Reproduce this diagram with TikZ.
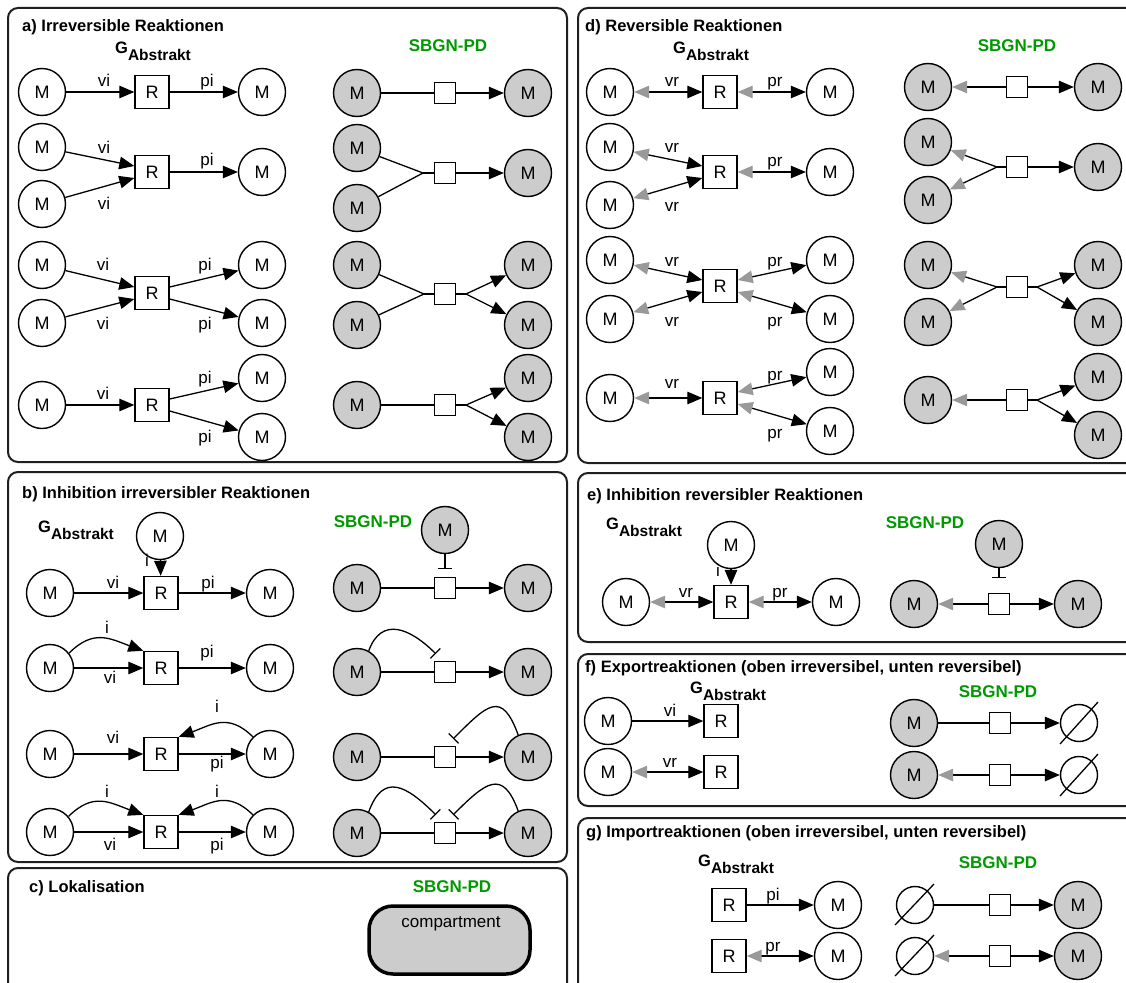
\documentclass[tikz,border=0pt]{standalone}
\usepackage{fontspec}
\setmainfont{Liberation Sans}
\usetikzlibrary{arrows.meta}
\definecolor{mgray}{HTML}{CCCCCC}
\definecolor{agray}{HTML}{999999}
\definecolor{sgreen}{HTML}{009900}
\newcommand\gabs{\bfseries\fontsize{16.5}{18}\selectfont G\raisebox{-7.5pt}{\fontsize{15.5}{17}\selectfont Abstrakt}}
\tikzset{
  mnode/.style={circle, draw, line width=1.4pt, minimum size=47pt, inner sep=0pt, font=\fontsize{18}{20}\selectfont},
  gnode/.style={mnode, fill=mgray},
  rnode/.style={rectangle, draw, line width=1.4pt, minimum width=34pt, minimum height=33pt, inner sep=0pt, font=\fontsize{18}{20}\selectfont},
  sqnode/.style={rectangle, draw, fill=white, line width=1.4pt, minimum size=21pt, inner sep=0pt},
  esnode/.style={circle, draw, line width=1.4pt, minimum size=37pt, inner sep=0pt},
  edge/.style={line width=1.3pt},
  arr/.style={edge, -{Triangle[length=15pt,width=12.5pt]}},
  garr/.style={edge, -{Triangle[length=15pt,width=12.5pt,color=agray]}},
  rarr/.style={edge, {Triangle[length=15pt,width=12.5pt,color=agray]}-{Triangle[length=15pt,width=12.5pt]}},
  inh/.style={edge, -{Bar[width=14pt]}},
  panel/.style={draw=black!88, line width=2pt, rounded corners=10pt},
  title/.style={anchor=base west, inner sep=0pt, font=\bfseries\fontsize{16.5}{19}\selectfont},
  sbgn/.style={anchor=base, inner sep=0pt, text=sgreen, font=\bfseries\fontsize{17}{20}\selectfont},
  gab/.style={anchor=base west, inner sep=0pt},
  lab/.style={anchor=base, inner sep=0pt, font=\fontsize{17}{20}\selectfont},
}
\begin{document}
\begin{tikzpicture}[x=1pt,y=1pt]
\useasboundingbox (0,0) rectangle (1126,-982);
\clip (0,0) rectangle (1126,-982);

% panel frames
\draw[panel] (8,-8) rectangle (567,-462);
\draw[panel] (8,-472) rectangle (567,-862);
\draw[panel] (8,-868) rectangle (567,-1000);
\draw[panel] (578,-8) rectangle (1145,-463);
\draw[panel] (578,-473) rectangle (1145,-642);
\draw[panel] (578,-654) rectangle (1145,-806);
\draw[panel] (578,-818) rectangle (1145,-1000);

% ---------- a) irreversible reactions ----------
\node[title] (ta) at (22,-32) {a) Irreversible Reaktionen};
\node[gab] (gaa) at (115,-53) {\gabs};
\node[sbgn] (sa) at (448,-52) {SBGN-PD};

\node[mnode] (a1m) at (42,-92) {M};
\node[rnode] (a1r) at (152,-92) {R};
\node[mnode] (a1p) at (262,-92) {M};
\draw[arr] (a1m) -- (a1r);
\draw[arr] (a1r) -- (a1p);
\node[lab] (a1l1) at (104,-86) {vi};
\node[lab] (a1l2) at (207,-86) {pi};

\node[mnode] (a2m1) at (42,-147) {M};
\node[mnode] (a2m2) at (42,-204) {M};
\node[rnode] (a2r) at (152,-172) {R};
\node[mnode] (a2p) at (262,-172) {M};
\draw[arr] (a2m1) -- ([yshift=6pt]a2r.west);
\draw[arr] (a2m2) -- ([yshift=-6pt]a2r.west);
\draw[arr] (a2r) -- (a2p);
\node[lab] (a2l1) at (104,-153) {vi};
\node[lab] (a2l2) at (104,-209) {vi};
\node[lab] (a2l3) at (207,-165) {pi};

\node[mnode] (a3m1) at (42,-265) {M};
\node[mnode] (a3m2) at (42,-323) {M};
\node[rnode] (a3r) at (152,-293) {R};
\node[mnode] (a3p1) at (262,-265) {M};
\node[mnode] (a3p2) at (262,-323) {M};
\draw[arr] (a3m1) -- ([yshift=6pt]a3r.west);
\draw[arr] (a3m2) -- ([yshift=-6pt]a3r.west);
\draw[arr] ([yshift=6pt]a3r.east) -- (a3p1);
\draw[arr] ([yshift=-6pt]a3r.east) -- (a3p2);
\node[lab] (a3l1) at (103,-270) {vi};
\node[lab] (a3l2) at (103,-329) {vi};
\node[lab] (a3l3) at (205,-270) {pi};
\node[lab] (a3l4) at (205,-329) {pi};

\node[mnode] (a4m) at (42,-405) {M};
\node[rnode] (a4r) at (152,-405) {R};
\node[mnode] (a4p1) at (262,-378) {M};
\node[mnode] (a4p2) at (262,-437) {M};
\draw[arr] (a4m) -- (a4r);
\draw[arr] ([yshift=6pt]a4r.east) -- (a4p1);
\draw[arr] ([yshift=-6pt]a4r.east) -- (a4p2);
\node[lab] (a4l1) at (103,-399) {vi};
\node[lab] (a4l2) at (205,-383) {pi};
\node[lab] (a4l3) at (205,-442) {pi};

% SBGN-PD column of a)
\node[gnode] (ga1m) at (357,-93) {M};
\node[sqnode] (sqa1) at (445,-93) {};
\node[gnode] (ga1p) at (528,-93) {M};
\draw[edge] (ga1m) -- (sqa1);
\draw[arr] (sqa1) -- (ga1p);

\node[gnode] (ga2m1) at (357,-148) {M};
\node[gnode] (ga2m2) at (357,-208) {M};
\coordinate (ja2) at (423,-173);
\node[sqnode] (sqa2) at (445,-173) {};
\node[gnode] (ga2p) at (528,-173) {M};
\draw[edge] (ga2m1) -- (ja2);
\draw[edge] (ga2m2) -- (ja2);
\draw[edge] (ja2) -- (sqa2);
\draw[arr] (sqa2) -- (ga2p);

\node[gnode] (ga3m1) at (357,-265) {M};
\node[gnode] (ga3m2) at (357,-325) {M};
\coordinate (ja3) at (424,-294);
\node[sqnode] (sqa3) at (445,-294) {};
\coordinate (ka3) at (466,-294);
\node[gnode] (ga3p1) at (528,-265) {M};
\node[gnode] (ga3p2) at (528,-325) {M};
\draw[edge] (ga3m1) -- (ja3);
\draw[edge] (ga3m2) -- (ja3);
\draw[edge] (ja3) -- (sqa3);
\draw[edge] (sqa3) -- (ka3);
\draw[arr] (ka3) -- (ga3p1);
\draw[arr] (ka3) -- (ga3p2);

\node[gnode] (ga4m) at (357,-405) {M};
\node[sqnode] (sqa4) at (445,-405) {};
\coordinate (ka4) at (466,-405);
\node[gnode] (ga4p1) at (528,-378) {M};
\node[gnode] (ga4p2) at (528,-437) {M};
\draw[edge] (ga4m) -- (sqa4);
\draw[edge] (sqa4) -- (ka4);
\draw[arr] (ka4) -- (ga4p1);
\draw[arr] (ka4) -- (ga4p2);

% ---------- b) inhibition of irreversible reactions ----------
\node[title] (tb) at (22,-498) {b) Inhibition irreversibler Reaktionen};
\node[gab] (gab) at (38,-532) {\gabs};
\node[sbgn] (sb) at (373,-527) {SBGN-PD};

\node[mnode] (b0m) at (160,-536) {M};
\node[mnode] (b1m) at (50,-593) {M};
\node[rnode] (b1r) at (161,-593) {R};
\node[mnode] (b1p) at (270,-593) {M};
\draw[arr] (b0m) -- (b1r);
\draw[arr] (b1m) -- (b1r);
\draw[arr] (b1r) -- (b1p);
\node[lab] (b1l0) at (147,-566) {i};
\node[lab] (b1l1) at (113,-588) {vi};
\node[lab] (b1l2) at (208,-588) {pi};

\node[mnode] (b2m) at (50,-668) {M};
\node[rnode] (b2r) at (161,-668) {R};
\node[mnode] (b2p) at (270,-668) {M};
\draw[arr] (b2m) -- (b2r);
\draw[arr] (b2r) -- (b2p);
\draw[arr] (b2m.38) to[out=45,in=160,looseness=1.2] (b2r.north west);
\node[lab] (b2l0) at (107,-633) {i};
\node[lab] (b2l1) at (110,-683) {vi};
\node[lab] (b2l2) at (207,-657) {pi};

\node[mnode] (b3m) at (50,-754) {M};
\node[rnode] (b3r) at (161,-754) {R};
\node[mnode] (b3p) at (270,-754) {M};
\draw[arr] (b3m) -- (b3r);
\draw[arr] (b3r) -- (b3p);
\draw[arr] (b3p.135) to[out=135,in=20,looseness=1.2] (b3r.north east);
\node[lab] (b3l0) at (217,-712) {i};
\node[lab] (b3l1) at (113,-743) {vi};
\node[lab] (b3l2) at (217,-768) {pi};

\node[mnode] (b4m) at (50,-832) {M};
\node[rnode] (b4r) at (161,-832) {R};
\node[mnode] (b4p) at (270,-832) {M};
\draw[arr] (b4m) -- (b4r);
\draw[arr] (b4r) -- (b4p);
\draw[arr] (b4m.40) to[out=45,in=160,looseness=1.2] (b4r.north west);
\draw[arr] (b4p.135) to[out=135,in=20,looseness=1.2] (b4r.north east);
\node[lab] (b4l0) at (107,-797) {i};
\node[lab] (b4l1) at (217,-797) {i};
\node[lab] (b4l2) at (110,-850) {vi};
\node[lab] (b4l3) at (217,-850) {pi};

% SBGN-PD column of b)
\node[gnode] (gb0) at (445,-530) {M};
\node[gnode] (gb1m) at (357,-588) {M};
\node[sqnode] (sqb1) at (445,-588) {};
\node[gnode] (gb1p) at (528,-588) {M};
\draw[edge] (gb1m) -- (sqb1);
\draw[arr] (sqb1) -- (gb1p);
\draw[inh] (gb0) -- ([yshift=8pt]sqb1.north);

\node[gnode] (gb2m) at (357,-672) {M};
\node[sqnode] (sqb2) at (445,-672) {};
\node[gnode] (gb2p) at (528,-672) {M};
\draw[edge] (gb2m) -- (sqb2);
\draw[arr] (sqb2) -- (gb2p);
\draw[inh] (gb2m.61) to[out=70,in=135,looseness=1.4] ([shift={(2pt,7pt)}]sqb2.north west);

\node[gnode] (gb3m) at (357,-757) {M};
\node[sqnode] (sqb3) at (445,-757) {};
\node[gnode] (gb3p) at (528,-757) {M};
\draw[edge] (gb3m) -- (sqb3);
\draw[arr] (sqb3) -- (gb3p);
\draw[inh] (gb3p.114) to[out=110,in=45,looseness=1.9] ([shift={(-3pt,7pt)}]sqb3.north east);

\node[gnode] (gb4m) at (357,-833) {M};
\node[sqnode] (sqb4) at (445,-833) {};
\node[gnode] (gb4p) at (528,-833) {M};
\draw[edge] (gb4m) -- (sqb4);
\draw[arr] (sqb4) -- (gb4p);
\draw[inh] (gb4m.61) to[out=70,in=135,looseness=1.6] ([shift={(2pt,7pt)}]sqb4.north west);
\draw[inh] (gb4p.114) to[out=110,in=45,looseness=1.8] ([shift={(-3pt,7pt)}]sqb4.north east);

% ---------- c) localisation ----------
\node[title] (tc) at (29,-892) {c) Lokalisation};
\node[sbgn] (sc) at (452,-892) {SBGN-PD};
\node[draw, line width=3.5pt, fill=mgray, rounded corners=24pt, minimum width=161pt, minimum height=68pt] (comp) at (449.5,-940) {};
\node[lab] (compl) at (451,-927) {compartment};

% ---------- d) reversible reactions ----------
\node[title] (td) at (585,-32) {d) Reversible Reaktionen};
\node[gab] (gad) at (673,-53) {\gabs};
\node[sbgn] (sd) at (1017,-52) {SBGN-PD};

\node[mnode] (d1m) at (610,-92) {M};
\node[rnode] (d1r) at (720,-92) {R};
\node[mnode] (d1p) at (830,-92) {M};
\draw[rarr] (d1m) -- (d1r);
\draw[rarr] (d1r) -- (d1p);
\node[lab] (d1l1) at (672,-86) {vr};
\node[lab] (d1l2) at (775,-86) {pr};

\node[mnode] (d2m1) at (610,-147) {M};
\node[mnode] (d2m2) at (610,-205) {M};
\node[rnode] (d2r) at (720,-172) {R};
\node[mnode] (d2p) at (830,-172) {M};
\draw[rarr] (d2m1) -- ([yshift=6pt]d2r.west);
\draw[rarr] (d2m2) -- ([yshift=-6pt]d2r.west);
\draw[rarr] (d2r) -- (d2p);
\node[lab] (d2l1) at (672,-152) {vr};
\node[lab] (d2l2) at (672,-211) {vr};
\node[lab] (d2l3) at (775,-166) {pr};

\node[mnode] (d3m1) at (610,-260) {M};
\node[mnode] (d3m2) at (610,-319) {M};
\node[rnode] (d3r) at (720,-286) {R};
\node[mnode] (d3p1) at (830,-260) {M};
\node[mnode] (d3p2) at (830,-319) {M};
\draw[rarr] (d3m1) -- ([yshift=6pt]d3r.west);
\draw[rarr] (d3m2) -- ([yshift=-6pt]d3r.west);
\draw[rarr] ([yshift=6pt]d3r.east) -- (d3p1);
\draw[rarr] ([yshift=-6pt]d3r.east) -- (d3p2);
\node[lab] (d3l1) at (672,-266) {vr};
\node[lab] (d3l2) at (672,-326) {vr};
\node[lab] (d3l3) at (775,-266) {pr};
\node[lab] (d3l4) at (775,-326) {pr};

\node[mnode] (d4m) at (610,-398) {M};
\node[rnode] (d4r) at (720,-398) {R};
\node[mnode] (d4p1) at (830,-372) {M};
\node[mnode] (d4p2) at (830,-431) {M};
\draw[rarr] (d4m) -- (d4r);
\draw[rarr] ([yshift=6pt]d4r.east) -- (d4p1);
\draw[rarr] ([yshift=-6pt]d4r.east) -- (d4p2);
\node[lab] (d4l1) at (672,-388) {vr};
\node[lab] (d4l2) at (775,-380) {pr};
\node[lab] (d4l3) at (775,-438) {pr};

% SBGN-PD column of d)
\node[gnode] (gd1m) at (928,-87) {M};
\node[sqnode] (sqd1) at (1017,-87) {};
\node[gnode] (gd1p) at (1098,-87) {M};
\draw[garr] (sqd1) -- (gd1m);
\draw[arr] (sqd1) -- (gd1p);

\node[gnode] (gd2m1) at (928,-142) {M};
\node[gnode] (gd2m2) at (928,-200) {M};
\coordinate (jd2) at (997,-167);
\node[sqnode] (sqd2) at (1017,-167) {};
\node[gnode] (gd2p) at (1098,-167) {M};
\draw[edge] (sqd2) -- (jd2);
\draw[garr] (jd2) -- (gd2m1);
\draw[garr] (jd2) -- (gd2m2);
\draw[arr] (sqd2) -- (gd2p);

\node[gnode] (gd3m1) at (928,-265) {M};
\node[gnode] (gd3m2) at (928,-322) {M};
\coordinate (jd3) at (997,-287);
\node[sqnode] (sqd3) at (1017,-287) {};
\coordinate (kd3) at (1037,-287);
\node[gnode] (gd3p1) at (1098,-265) {M};
\node[gnode] (gd3p2) at (1098,-322) {M};
\draw[edge] (sqd3) -- (jd3);
\draw[garr] (jd3) -- (gd3m1);
\draw[garr] (jd3) -- (gd3m2);
\draw[edge] (sqd3) -- (kd3);
\draw[arr] (kd3) -- (gd3p1);
\draw[arr] (kd3) -- (gd3p2);

\node[gnode] (gd4m) at (928,-400) {M};
\node[sqnode] (sqd4) at (1017,-400) {};
\coordinate (kd4) at (1037,-400);
\node[gnode] (gd4p1) at (1098,-377) {M};
\node[gnode] (gd4p2) at (1098,-435) {M};
\draw[garr] (sqd4) -- (gd4m);
\draw[edge] (sqd4) -- (kd4);
\draw[arr] (kd4) -- (gd4p1);
\draw[arr] (kd4) -- (gd4p2);

% ---------- e) inhibition of reversible reactions ----------
\node[title] (te) at (587,-500) {e) Inhibition reversibler Reaktionen};
\node[gab] (gae) at (606,-529) {\gabs};
\node[sbgn] (se) at (925,-528) {SBGN-PD};

\node[mnode] (e0m) at (731,-545) {M};
\node[mnode] (e1m) at (626,-602) {M};
\node[rnode] (e1r) at (731,-602) {R};
\node[mnode] (e1p) at (836,-602) {M};
\draw[arr] (e0m) -- (e1r);
\draw[rarr] (e1m) -- (e1r);
\draw[rarr] (e1r) -- (e1p);
\node[lab] (el0) at (718,-576) {i};
\node[lab] (el1) at (686,-597) {vr};
\node[lab] (el2) at (780,-597) {pr};

\node[gnode] (ge0) at (999,-544) {M};
\node[gnode] (gem) at (914,-604) {M};
\node[sqnode] (sqe) at (999,-604) {};
\node[gnode] (gep) at (1078,-604) {M};
\draw[garr] (sqe) -- (gem);
\draw[arr] (sqe) -- (gep);
\draw[inh] (ge0) -- ([yshift=15pt]sqe.north);

% ---------- f) export reactions ----------
\node[title] (tf) at (585,-672) {f) Exportreaktionen (oben irreversibel, unten reversibel)};
\node[gab] (gaf) at (690,-693) {\gabs};
\node[sbgn] (sf) at (998,-697) {SBGN-PD};

\node[mnode] (f1m) at (608,-721) {M};
\node[rnode] (f1r) at (721,-721) {R};
\draw[arr] (f1m) -- (f1r);
\node[lab] (fl1) at (670,-716) {vi};
\node[mnode] (f2m) at (608,-772) {M};
\node[rnode] (f2r) at (721,-772) {R};
\draw[rarr] (f2m) -- (f2r);
\node[lab] (fl2) at (670,-767) {vr};

\node[gnode] (gf1m) at (914,-723) {M};
\node[sqnode] (sqf1) at (1000,-723) {};
\node[esnode] (ef1) at (1079,-723) {};
\draw[edge] (gf1m) -- (sqf1);
\draw[arr] (sqf1) -- (ef1);
\draw[edge] ([shift={(-19pt,-21pt)}]ef1.center) -- ([shift={(19pt,21pt)}]ef1.center);

\node[gnode] (gf2m) at (914,-775) {M};
\node[sqnode] (sqf2) at (1000,-775) {};
\node[esnode] (ef2) at (1079,-775) {};
\draw[garr] (sqf2) -- (gf2m);
\draw[arr] (sqf2) -- (ef2);
\draw[edge] ([shift={(-19pt,-21pt)}]ef2.center) -- ([shift={(19pt,21pt)}]ef2.center);

% ---------- g) import reactions ----------
\node[title] (tg) at (586,-837) {g) Importreaktionen (oben irreversibel, unten reversibel)};
\node[gab] (gag) at (698,-866) {\gabs};
\node[sbgn] (sg) at (998,-868) {SBGN-PD};

\node[rnode] (g1r) at (729,-905) {R};
\node[mnode] (g1p) at (838,-905) {M};
\draw[arr] (g1r) -- (g1p);
\node[lab] (gl1) at (773,-900) {pi};
\node[rnode] (g2r) at (729,-956) {R};
\node[mnode] (g2p) at (838,-956) {M};
\draw[rarr] (g2r) -- (g2p);
\node[lab] (gl2) at (773,-951) {pr};

\node[esnode] (eg1) at (915,-905) {};
\node[sqnode] (sqg1) at (1000,-905) {};
\node[gnode] (gg1) at (1078,-905) {M};
\draw[edge] (eg1) -- (sqg1);
\draw[arr] (sqg1) -- (gg1);
\draw[edge] ([shift={(-20pt,-20pt)}]eg1.center) -- ([shift={(19pt,21pt)}]eg1.center);

\node[esnode] (eg2) at (915,-956) {};
\node[sqnode] (sqg2) at (1000,-956) {};
\node[gnode] (gg2) at (1078,-956) {M};
\draw[garr] (sqg2) -- (eg2);
\draw[arr] (sqg2) -- (gg2);
\draw[edge] ([shift={(-20pt,-20pt)}]eg2.center) -- ([shift={(19pt,21pt)}]eg2.center);
\end{tikzpicture}
\end{document}
